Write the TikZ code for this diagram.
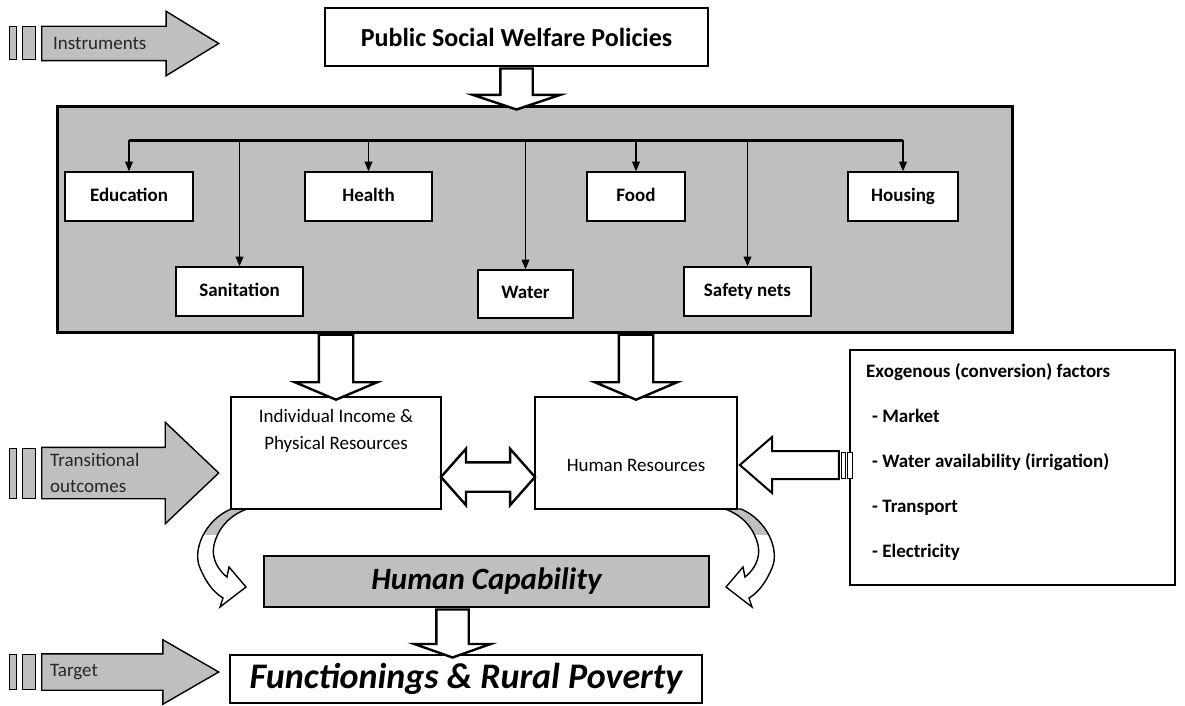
\documentclass[tikz,border=0pt]{standalone}
\usepackage{fontspec}
\setmainfont{Carlito}
\usetikzlibrary{arrows,shapes.arrows,positioning,calc}

% the bent arrow under the resource boxes (left one, mirrored for the right)
\newcommand{\bendpath}{(231,509) .. controls (205,520) and (192,550) .. (200,568)
  .. controls (206,582) and (213,592) .. (223,598) -- (220,607) -- (246,587)
  -- (229,567) -- (227,577) .. controls (218,570) and (211,558) .. (214,545)
  .. controls (218,528) and (230,515) .. (247,509) -- cycle}

\tikzset{
  shade/.style={fill=black!25},
  card/.style={draw, fill=white, line width=1.6pt, inner sep=0pt,
    text height=13pt, text depth=4pt,
    font=\fontsize{19}{23}\selectfont\bfseries},
  bigbox/.style={draw, fill=white, line width=2.6pt, inner sep=0pt},
  plain/.style={inner sep=0pt, align=center, font=\fontsize{19}{27}\selectfont},
  hollow/.style={single arrow, draw, fill=white, line width=2.4pt,
    inner xsep=0pt, rotate=-90, anchor=tail},
  tag/.style={single arrow, draw, shade, line width=1.4pt, inner xsep=0pt,
    anchor=tail, minimum height=177pt},
  tagtext/.style={inner sep=0pt, align=left, text=black!85,
    font=\fontsize{19}{26}\selectfont},
  exotext/.style={inner sep=0pt, anchor=base west,
    font=\fontsize{19}{23}\selectfont\bfseries},
  branch/.style={->, line width=1.2pt}
}

\begin{document}
\begin{tikzpicture}[x=1pt,y=-1pt,line join=miter,>=triangle 45]
\useasboundingbox (0,0) rectangle (1185,706);

% instruments
\node[bigbox, minimum width=383pt, minimum height=58pt,
  font=\fontsize{26}{30}\selectfont\bfseries] (policy) at (516.5,37) {Public Social Welfare Policies};
\node[shade, draw, line width=3pt, minimum width=955pt, minimum height=225pt] (panel) at (534.5,219.5) {};
\node[hollow, minimum height=41pt, minimum width=85pt, inner ysep=15pt,
  single arrow head extend=27.5pt, single arrow tip angle=143] (down1) at (policy.south) {};

\node[card, minimum width=128pt, minimum height=49pt] (education) at (129,196.5) {Education};
\node[card, minimum width=127pt, minimum height=49pt] (health) at (368.5,196.5) {Health};
\node[card, minimum width=98pt, minimum height=49pt] (food) at (636,196.5) {Food};
\node[card, minimum width=110pt, minimum height=49pt] (housing) at (903,196.5) {Housing};
\node[card, minimum width=127pt, minimum height=49pt] (sanitation) at (239.5,291.5) {Sanitation};
\node[card, minimum width=95pt, minimum height=48pt] (water) at (525.5,294) {Water};
\node[card, minimum width=127pt, minimum height=49pt] (safety) at (747.5,291.5) {Safety nets};

\coordinate (bus west) at (129,140);
\coordinate (bus east) at (903,140);
\foreach \s in {education,sanitation,health,water,food,safety,housing}
  \draw[branch] (\s.north |- bus west) -- (\s.north);
\draw[line width=3pt] (bus west) -- (bus east);

% transitional outcomes
\begin{scope}
\fill[white] \bendpath;
\clip (150,500) rectangle (300,534);
\fill[shade] \bendpath;
\end{scope}
\draw[line width=1.4pt] \bendpath;
\begin{scope}[xshift=972pt, xscale=-1]
\fill[white] \bendpath;
\begin{scope}
\clip (150,500) rectangle (300,534);
\fill[shade] \bendpath;
\end{scope}
\draw[line width=1.4pt] \bendpath;
\end{scope}

\node[bigbox, minimum width=210pt, minimum height=112pt] (income) at (336,453) {};
\node[plain, below=13pt of income.north] (income text) {Individual Income \&\\Physical Resources};
\node[bigbox, minimum width=202pt, minimum height=112pt] (human) at (636,453) {};
\node[plain] (human text) at ([yshift=-12pt]human.center) {Human Resources};

\node[hollow, minimum height=65pt, minimum width=80pt, inner ysep=16pt,
  single arrow head extend=24pt, single arrow tip angle=134] (down2) at (income.north |- panel.south) {};
\node[hollow, minimum height=65pt, minimum width=80pt, inner ysep=16pt,
  single arrow head extend=24pt, single arrow tip angle=134] (down3) at (human.north |- panel.south) {};

\node[double arrow, draw, fill=white, line width=2.4pt, inner xsep=0pt, inner ysep=13.5pt,
  minimum height=94pt, minimum width=54pt, double arrow head extend=13.5pt,
  double arrow tip angle=97] (link) at ($(income.east)!0.5!(human.west)+(0,24)$) {};

% conversion factors
\node[draw, fill=white, line width=2.2pt, minimum width=325pt, minimum height=235pt] (exo) at (1012.5,467.5) {};
\node[exotext] (exo title) at (866,377) {Exogenous (conversion) factors};
\foreach \f [count=\k] in {Market,Water availability (irrigation),Transport,Electricity}
  \node[exotext] at (872,{377+45*\k}) {- \f};
\node[single arrow, draw, fill=white, line width=2pt, inner xsep=0pt, inner ysep=13pt,
  rotate=180, anchor=tip, minimum height=99pt, minimum width=54pt,
  single arrow head extend=14pt, single arrow tip angle=82] (pull) at ($(human.east)+(0,12)$) {};
\draw[line width=1pt, fill=white] ($(pull.tail)+(2,-13)$) rectangle ($(pull.tail)+(6,13)$);
\draw[line width=1pt, fill=white] ($(pull.tail)+(8,-13)$) rectangle ($(pull.tail)+(13,13)$);

% target
\node[draw, shade, line width=2.6pt, minimum width=445pt, minimum height=51pt,
  font=\fontsize{31}{36}\selectfont\bfseries\itshape] (capab) at (486.5,581.5) {Human Capability};
\node[bigbox, minimum width=472pt, minimum height=48pt,
  font=\fontsize{36}{40}\selectfont\bfseries\itshape] (func) at (466,679) {Functionings \& Rural Poverty};
\node[hollow, minimum height=48pt, minimum width=74pt, inner ysep=15pt,
  single arrow head extend=22pt, single arrow tip angle=141] (down4) at ($(capab.south)+(-34,0)$) {};

% grey tags on the left
\node[tag, minimum width=63pt, inner ysep=16.5pt, single arrow head extend=15pt,
  single arrow tip angle=63] (instr) at (41,43.5) {};
\node[tagtext, right=12pt of instr.tail] {Instruments};
\node[tag, minimum width=100pt, inner ysep=25pt, single arrow head extend=25pt,
  single arrow tip angle=87] (trans) at (41,473) {};
\node[tagtext, right=9pt of trans.tail] {Transitional\\outcomes};
\node[tag, minimum width=63pt, inner ysep=17.5pt, single arrow head extend=14pt,
  single arrow tip angle=60] (target) at (41,672) {};
\node[tagtext, right=9pt of target.tail] {Target};
\foreach \a/\h in {instr/16.5,trans/25,target/17.5}{
  \draw[shade, line width=1pt] ($(\a.tail)+(-32,-\h)$) rectangle ($(\a.tail)+(-25,\h)$);
  \draw[shade, line width=1pt] ($(\a.tail)+(-19,-\h)$) rectangle ($(\a.tail)+(-6,\h)$);
}
\end{tikzpicture}
\end{document}
